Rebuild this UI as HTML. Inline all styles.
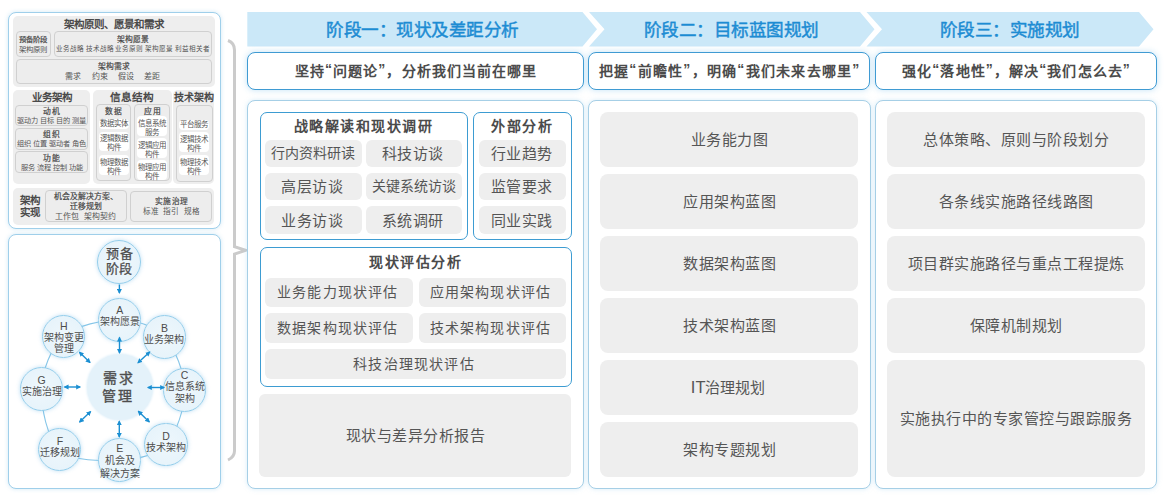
<!DOCTYPE html>
<html lang="zh-CN">
<head>
<meta charset="utf-8">
<style>
html,body{margin:0;padding:0;background:#fff;}
body{width:1167px;height:499px;position:relative;overflow:hidden;font-family:"Liberation Sans",sans-serif;color:#555;}
.a{position:absolute;box-sizing:border-box;}
.t{position:absolute;white-space:nowrap;text-align:center;line-height:1;}
/* left */
.outer{border:1.2px solid #9fcfea;border-radius:8px;background:#fff;box-shadow:0 0 4px rgba(150,205,235,.45);}
.gp{background:#eeeeee;border-radius:5px;}
.ib{border:1px solid #d0d0d0;border-radius:4px;background:#ededed;}
.wp{background:#fff;border-radius:4px;}
.lt{font-weight:bold;color:#4a4a4a;}
/* right */
.hb{border:1.6px solid #3f9bd3;border-radius:8px;background:#fff;box-shadow:0 0 6px rgba(120,190,235,.45);}
.cp{border:1px solid #a6cfe6;border-radius:8px;background:#fff;box-shadow:0 0 5px rgba(140,200,235,.35);}
.bb{border:1.3px solid #3d9cd2;border-radius:7px;background:#fff;}
.pill{background:#eeeeee;border-radius:6px;}
.ptxt{font-size:14px;color:#555;}
.circ{border:1.3px solid #93cdeb;border-radius:50%;background:radial-gradient(circle,#eef7fc 0%,#e4f2fa 100%);box-shadow:0 0 4px rgba(110,185,230,.45);}
.ct{color:#4c4c4c;}
.ltr{font-size:10.5px;}
.btl{font-size:14px;font-weight:bold;color:#4b4b4b;letter-spacing:1.5px;}
.ptxt2{font-size:15px;color:#555;letter-spacing:0.5px;text-indent:0.5px;}
.g2{border-radius:8px;}
.ls{font-size:15px;letter-spacing:0.5px;text-indent:0;margin-left:-1px;}
.st{font-size:7.5px;color:#555;}
.st2{font-size:7.8px;color:#444;-webkit-text-stroke:0.2px #444;}
.sm{color:#555;}
.ls1{letter-spacing:1px;text-indent:1px;}
.q{position:relative;top:-2px;}
.htxt{font-size:14px;font-weight:bold;color:#4b4b4b;letter-spacing:1.1px;text-indent:1.1px;}
</style>
</head>
<body>
<!-- LEFT TOP PANEL -->
<div class="a outer" style="left:8px;top:12px;width:213px;height:217px;"></div>
<div class="a gp" style="left:13px;top:16px;width:202px;height:71px;"></div>
<div class="t lt" style="left:13px;width:202px;top:19px;font-size:10.5px;">架构原则、愿景和需求</div>
<div class="a ib" style="left:16.4px;top:31.3px;width:34.2px;height:25.3px;"></div>
<div class="t st2" style="left:16.4px;width:34.2px;top:35.8px;font-size:7.4px;">预备阶段</div>
<div class="t sm" style="left:16.4px;width:34.2px;top:45.8px;font-size:7.4px;">架构原则</div>
<div class="a ib" style="left:53.6px;top:31.3px;width:158.6px;height:25.3px;"></div>
<div class="t st2" style="left:53.6px;width:158.6px;top:35.8px;font-size:7.8px;">架构愿景</div>
<div class="t sm" style="left:53.6px;width:158.6px;top:45.8px;font-size:6.6px;">业务战略 技术战略 业务原则 架构愿景 利益相关者</div>
<div class="a ib" style="left:16.4px;top:59.4px;width:195.8px;height:24.7px;"></div>
<div class="t st2" style="left:16.4px;width:195.8px;top:63px;font-size:7.8px;">架构需求</div>
<div class="t sm" style="left:16.4px;width:195.8px;top:72.5px;font-size:8px;word-spacing:8px;text-indent:-3px;">需求 约束 假设 差距</div>

<div class="a gp" style="left:13.3px;top:90.2px;width:76.3px;height:93.6px;"></div>
<div class="t lt" style="left:14.3px;width:76.3px;top:92.2px;font-size:10.5px;">业务架构</div>
<div class="a ib" style="left:15.3px;top:104.5px;width:72.8px;height:21.8px;"></div>
<div class="t st2 ls1" style="left:15.3px;width:72.8px;top:107.5px;">动机</div>
<div class="t sm" style="left:15.3px;width:72.8px;top:116.8px;font-size:7.2px;">驱动力 目标 目的 测量</div>
<div class="a ib" style="left:15.3px;top:128.3px;width:72.8px;height:21.3px;"></div>
<div class="t st2 ls1" style="left:15.3px;width:72.8px;top:131px;">组织</div>
<div class="t sm" style="left:15.3px;width:72.8px;top:140.3px;font-size:7.2px;">组织 位置 驱动者 角色</div>
<div class="a ib" style="left:15.3px;top:151.4px;width:72.8px;height:22.1px;"></div>
<div class="t st2 ls1" style="left:15.3px;width:72.8px;top:154.5px;">功能</div>
<div class="t sm" style="left:15.3px;width:72.8px;top:163.8px;font-size:7.2px;">服务 流程 控制 功能</div>

<div class="a gp" style="left:93.4px;top:90.2px;width:78.2px;height:93.6px;"></div>
<div class="t lt" style="left:93.4px;width:78.2px;top:92.2px;font-size:10.6px;">信息结构</div>
<div class="a ib" style="left:96.1px;top:104.3px;width:35.2px;height:77.1px;"></div>
<div class="t st2 ls1" style="left:96.1px;width:35.2px;top:108px;">数据</div>
<div class="a ib" style="left:134.4px;top:104.3px;width:35.6px;height:77.1px;"></div>
<div class="t st2 ls1" style="left:134.4px;width:35.6px;top:108px;">应用</div>

<div class="a gp" style="left:173px;top:90.2px;width:41.2px;height:93.6px;"></div>
<div class="t lt" style="left:173px;width:41.2px;top:92.6px;font-size:10px;">技术架构</div>
<div class="a ib" style="left:175.6px;top:104.5px;width:37px;height:77.8px;"></div>
<div class="a wp" style="left:99px;top:119px;width:30px;height:9.8px;"></div>
<div class="t st" style="left:96px;width:36px;top:120.2px;">数据实体</div>
<div class="a wp" style="left:99px;top:132.3px;width:30px;height:18.8px;"></div>
<div class="t st" style="left:96px;width:36px;top:133.8px;line-height:9px;">逻辑数据<br>构件</div>
<div class="a wp" style="left:99px;top:155.3px;width:30px;height:19.6px;"></div>
<div class="t st" style="left:96px;width:36px;top:157.7px;line-height:9px;">物理数据<br>构件</div>

<div class="a wp" style="left:137px;top:116.2px;width:30px;height:19.5px;"></div>
<div class="t st" style="left:134.5px;width:35px;top:118.7px;line-height:9px;">信息系统<br>服务</div>
<div class="a wp" style="left:137px;top:138.3px;width:30px;height:19.6px;"></div>
<div class="t st" style="left:134.5px;width:35px;top:140.8px;line-height:9px;">逻辑应用<br>构件</div>
<div class="a wp" style="left:137px;top:160.4px;width:30px;height:19.6px;"></div>
<div class="t st" style="left:134.5px;width:35px;top:162.9px;line-height:9px;">物理应用<br>构件</div>

<div class="a wp" style="left:179px;top:120px;width:30px;height:9.5px;"></div>
<div class="t st" style="left:175.5px;width:37px;top:121px;">平台服务</div>
<div class="a wp" style="left:179px;top:132.1px;width:30px;height:19.5px;"></div>
<div class="t st" style="left:175.5px;width:37px;top:134.5px;line-height:9px;">逻辑技术<br>构件</div>
<div class="a wp" style="left:179px;top:155.2px;width:30px;height:19.7px;"></div>
<div class="t st" style="left:175.5px;width:37px;top:157.7px;line-height:9px;">物理技术<br>构件</div>

<div class="a gp" style="left:13.4px;top:188px;width:201.1px;height:36.5px;"></div>
<div class="t lt" style="left:13.4px;width:33px;top:193.8px;font-size:10.5px;line-height:12.6px;">架构<br>实现</div>
<div class="a ib" style="left:45px;top:190.4px;width:81.5px;height:31.2px;"></div>
<div class="t st2" style="left:45px;width:81.5px;top:192.2px;font-size:7.9px;line-height:9.9px;text-indent:1px;">机会及解决方案、<br>迁移规划</div>
<div class="t sm" style="left:45px;width:81.5px;top:212.8px;font-size:7.9px;word-spacing:3px;">工作包 架构契约</div>
<div class="a ib" style="left:130.4px;top:190.5px;width:82.1px;height:31.2px;"></div>
<div class="t st2" style="left:130.4px;width:82.1px;top:197.8px;font-size:7.7px;letter-spacing:0.2px;text-indent:0.2px;">实施治理</div>
<div class="t sm" style="left:130.4px;width:82.1px;top:207.5px;font-size:7.6px;word-spacing:2.8px;">标准 指引 规格</div>

<!-- LEFT BOTTOM PANEL -->
<div class="a outer" style="left:8px;top:233.5px;width:213px;height:255px;"></div>
<svg class="a" style="left:0;top:0;" width="240" height="499">
<defs>
<marker id="ah" viewBox="0 0 10 10" refX="8" refY="5" markerWidth="4" markerHeight="4" orient="auto-start-reverse"><path d="M0 0 L10 5 L0 10 Z" fill="#1b8fd2"/></marker>
</defs>
<path d="M119.7 320.0 C136.5 320.1 153.7 325.4 164.5 337.1 C175.3 348.8 184.4 372.2 184.6 390.1 C184.8 408.0 176.7 432.9 165.9 444.6 C155.1 456.3 137.3 459.2 119.6 460.1 C101.9 461.0 72.9 461.8 59.9 449.9 C46.9 438.0 41.1 407.9 41.7 389.0 C42.3 370.1 50.7 348.0 63.7 336.5 C76.7 325.0 102.9 319.9 119.7 320.0 Z" fill="none" stroke="#86c6e8" stroke-width="1.1"/>
</svg>
<div class="a circ" style="left:97.4px;top:239.5px;width:44px;height:44px;"></div>
<div class="a circ" style="left:97.9px;top:298.2px;width:43.6px;height:43.6px;"></div>
<div class="a circ" style="left:142.7px;top:315.4px;width:43.5px;height:43.5px;"></div>
<div class="a circ" style="left:162.9px;top:368.4px;width:43.3px;height:43.3px;"></div>
<div class="a circ" style="left:144.3px;top:422.9px;width:43.3px;height:43.3px;"></div>
<div class="a circ" style="left:97.9px;top:438.3px;width:43.6px;height:43.6px;"></div>
<div class="a circ" style="left:38.3px;top:428.3px;width:43.2px;height:43.2px;"></div>
<div class="a circ" style="left:20.1px;top:367.4px;width:43.2px;height:43.2px;"></div>
<div class="a circ" style="left:42.1px;top:314.7px;width:43.2px;height:43.2px;"></div>
<div class="a" style="left:86.5px;top:354.3px;width:66px;height:66px;border-radius:50%;background:#e4f2fa;box-shadow:0 0 2px 1px #e8f4fb;"></div>
<svg class="a" style="left:0;top:0;" width="240" height="499">
<defs><marker id="ah2" viewBox="0 0 10 10" refX="8" refY="5" markerWidth="3.6" markerHeight="3.6" orient="auto-start-reverse"><path d="M0 0 L10 5 L0 10 Z" fill="#1b8fd2"/></marker></defs>
<g stroke="#1b8fd2" stroke-width="1.4" marker-start="url(#ah2)" marker-end="url(#ah2)">
<line x1="119.5" y1="337.5" x2="119.5" y2="353"/>
<line x1="79.5" y1="352.2" x2="90" y2="362.5"/>
<line x1="149.7" y1="352" x2="138" y2="362.8"/>
<line x1="64.5" y1="387" x2="80.2" y2="387"/>
<line x1="147.8" y1="387.5" x2="164.2" y2="387.5"/>
<line x1="79.6" y1="422" x2="90.6" y2="411.6"/>
<line x1="138.3" y1="411.3" x2="149.3" y2="421.9"/>
<line x1="119.3" y1="421.2" x2="119.3" y2="436.9"/>
</g>
<line x1="119.4" y1="284.5" x2="119.4" y2="293" stroke="#1b8fd2" stroke-width="1.4" marker-end="url(#ah2)"/>
</svg>
<div class="t ct" style="left:97.4px;width:44px;top:247.3px;font-size:13px;line-height:14.8px;letter-spacing:0.5px;text-indent:0.5px;-webkit-text-stroke:0.25px #4c4c4c;">预备<br>阶段</div>
<div class="t ct" style="left:97.9px;width:43.6px;top:305px;font-size:10px;line-height:11px;"><span class="ltr">A</span><br>架构愿景</div>
<div class="t ct" style="left:142.7px;width:43.5px;top:322.5px;font-size:10px;line-height:11px;"><span class="ltr">B</span><br>业务架构</div>
<div class="t ct" style="left:162.9px;width:43.3px;top:369.6px;font-size:10px;line-height:11.8px;"><span class="ltr">C</span><br>信息系统<br>架构</div>
<div class="t ct" style="left:144.3px;width:43.3px;top:430.5px;font-size:10px;line-height:11px;"><span class="ltr">D</span><br>技术架构</div>
<div class="t ct" style="left:97.9px;width:43.6px;top:441.5px;font-size:10px;line-height:12.7px;"><span class="ltr">E</span><br>机会及<br>解决方案</div>
<div class="t ct" style="left:38.3px;width:43.2px;top:436px;font-size:10px;line-height:11px;"><span class="ltr">F</span><br>迁移规划</div>
<div class="t ct" style="left:20.1px;width:43.2px;top:374.5px;font-size:10px;line-height:11px;"><span class="ltr">G</span><br>实施治理</div>
<div class="t ct" style="left:42.1px;width:43.2px;top:320.5px;font-size:10px;line-height:11px;"><span class="ltr">H</span><br>架构变更<br>管理</div>
<div class="t ct" style="left:85px;width:66px;top:370px;font-size:14px;line-height:17.8px;letter-spacing:2.5px;text-indent:2.5px;color:#4d4d4d;-webkit-text-stroke:0.35px #4d4d4d;">需求<br>管理</div>

<!-- BRACKET -->
<svg class="a" style="left:0;top:0;" width="1167" height="499">
<path d="M228 40.5 Q234.5 43 234.5 50 L234.5 246.6 L245.6 250.3 L234.5 254 L234.5 451 Q234.5 457 228 460" fill="none" stroke="#cbcbcb" stroke-width="3" stroke-linejoin="miter"/>
</svg>

<!-- CHEVRONS -->
<svg class="a" style="left:0;top:0;" width="1167" height="499">
<polygon points="247.3,12 582.5,12 597,29.2 582.5,46.5 247.3,46.5" fill="#cbe8f8"/>
<polygon points="589,12 860,12 874.5,29.2 860,46.5 589,46.5 604.5,29.2" fill="#cbe8f8"/>
<polygon points="866.5,12 1139,12 1153.5,29.2 1139,46.5 866.5,46.5 882,29.2" fill="#cbe8f8"/>
</svg>
<div class="t" style="left:247.5px;width:350px;top:22px;font-size:17.6px;letter-spacing:-0.5px;text-indent:-0.5px;color:#1d8cd3;-webkit-text-stroke:0.45px #1d8cd3;">阶段一：现状及差距分析</div>
<div class="t" style="left:589px;width:285px;top:22px;font-size:17.6px;letter-spacing:-0.5px;text-indent:-0.5px;color:#1d8cd3;-webkit-text-stroke:0.45px #1d8cd3;">阶段二：目标蓝图规划</div>
<div class="t" style="left:866.5px;width:287px;top:22px;font-size:17.6px;letter-spacing:-0.5px;text-indent:-0.5px;color:#1d8cd3;-webkit-text-stroke:0.45px #1d8cd3;">阶段三：实施规划</div>

<!-- HEADER BOXES -->
<div class="a hb" style="left:247px;top:52px;width:337px;height:38px;"></div>
<div class="t htxt" style="left:247.5px;width:336px;top:64px;">坚持<span class="q">“</span>问题论<span class="q">”</span>，分析我们当前在哪里</div>
<div class="a hb" style="left:588px;top:52px;width:282px;height:38px;"></div>
<div class="t htxt" style="left:588px;width:282px;top:64px;letter-spacing:1.25px;text-indent:1.25px;">把握<span class="q">“</span>前瞻性<span class="q">”</span>，明确<span class="q">“</span>我们未来去哪里<span class="q">”</span></div>
<div class="a hb" style="left:875px;top:52px;width:282px;height:38px;"></div>
<div class="t htxt" style="left:875px;width:282px;top:64px;">强化<span class="q">“</span>落地性<span class="q">”</span>，解决<span class="q">“</span>我们怎么去<span class="q">”</span></div>

<!-- CONTENT PANELS -->
<div class="a cp" style="left:247px;top:100px;width:337px;height:389px;"></div>
<div class="a cp" style="left:588px;top:100px;width:283px;height:389px;"></div>
<div class="a cp" style="left:875px;top:100px;width:282px;height:389px;"></div>

<!-- STAGE 1 CONTENT -->
<div class="a bb" style="left:259.5px;top:112px;width:208px;height:127.5px;"></div>
<div class="t btl" style="left:259.5px;width:208px;top:119px;">战略解读和现状调研</div>
<div class="a pill" style="left:265px;top:139.5px;width:96.5px;height:27.5px;"></div>
<div class="t ptxt" style="left:265px;width:96.5px;top:146px;">行内资料研读</div>
<div class="a pill" style="left:365.5px;top:139.5px;width:96.5px;height:27.5px;"></div>
<div class="t ptxt ls" style="left:365.5px;width:96.5px;top:146px;">科技访谈</div>
<div class="a pill" style="left:265px;top:172.7px;width:96.5px;height:27.5px;"></div>
<div class="t ptxt ls" style="left:265px;width:96.5px;top:179px;">高层访谈</div>
<div class="a pill" style="left:365.5px;top:172.7px;width:96.5px;height:27.5px;"></div>
<div class="t ptxt" style="left:365.5px;width:96.5px;top:179px;">关键系统访谈</div>
<div class="a pill" style="left:265px;top:206px;width:96.5px;height:27.5px;"></div>
<div class="t ptxt ls" style="left:265px;width:96.5px;top:212.5px;">业务访谈</div>
<div class="a pill" style="left:365.5px;top:206px;width:96.5px;height:27.5px;"></div>
<div class="t ptxt ls" style="left:365.5px;width:96.5px;top:212.5px;">系统调研</div>

<div class="a bb" style="left:473px;top:112px;width:98.5px;height:127.5px;"></div>
<div class="t btl" style="left:473px;width:98.5px;top:119px;">外部分析</div>
<div class="a pill" style="left:479px;top:139.5px;width:87px;height:27.5px;"></div>
<div class="t ptxt ls" style="left:479px;width:87px;top:146px;">行业趋势</div>
<div class="a pill" style="left:479px;top:172.7px;width:87px;height:27.5px;"></div>
<div class="t ptxt ls" style="left:479px;width:87px;top:179px;">监管要求</div>
<div class="a pill" style="left:479px;top:206px;width:87px;height:27.5px;"></div>
<div class="t ptxt ls" style="left:479px;width:87px;top:212.5px;">同业实践</div>

<div class="a bb" style="left:259.5px;top:246.8px;width:312px;height:140.5px;"></div>
<div class="t btl" style="left:259.5px;width:312px;top:254.5px;">现状评估分析</div>
<div class="a pill" style="left:265.2px;top:277.5px;width:147.5px;height:29.5px;"></div>
<div class="t ptxt2" style="left:263.4px;width:147.5px;top:285px;;font-size:14px;letter-spacing:1.2px;text-indent:1.2px">业务能力现状评估</div>
<div class="a pill" style="left:418.5px;top:277.5px;width:147.5px;height:29.5px;"></div>
<div class="t ptxt2" style="left:416px;width:147.5px;top:285px;;font-size:14px;letter-spacing:1.2px;text-indent:1.2px">应用架构现状评估</div>
<div class="a pill" style="left:265.2px;top:313px;width:147.5px;height:29.8px;"></div>
<div class="t ptxt2" style="left:263.4px;width:147.5px;top:320.5px;;font-size:14px;letter-spacing:1.2px;text-indent:1.2px">数据架构现状评估</div>
<div class="a pill" style="left:418.5px;top:313px;width:147.5px;height:29.8px;"></div>
<div class="t ptxt2" style="left:416px;width:147.5px;top:320.5px;;font-size:14px;letter-spacing:1.2px;text-indent:1.2px">技术架构现状评估</div>
<div class="a pill" style="left:265.2px;top:349px;width:300.8px;height:29.8px;"></div>
<div class="t ptxt2" style="left:263px;width:300.8px;top:356.5px;;font-size:14px;letter-spacing:1.2px;text-indent:1.2px">科技治理现状评估</div>

<div class="a pill" style="left:259px;top:394px;width:312.2px;height:82.5px;"></div>
<div class="t ptxt2" style="left:259px;width:312.2px;top:428px;">现状与差异分析报告</div>

<!-- STAGE 2 CONTENT -->
<div class="a pill g2" style="left:600.2px;top:112px;width:258.3px;height:55px;"></div>
<div class="t ptxt2" style="left:600.2px;width:258.3px;top:132px;">业务能力图</div>
<div class="a pill g2" style="left:600.2px;top:174px;width:258.3px;height:55px;"></div>
<div class="t ptxt2" style="left:600.2px;width:258.3px;top:194px;">应用架构蓝图</div>
<div class="a pill g2" style="left:600.2px;top:236px;width:258.3px;height:55px;"></div>
<div class="t ptxt2" style="left:600.2px;width:258.3px;top:256px;">数据架构蓝图</div>
<div class="a pill g2" style="left:600.2px;top:297.7px;width:258.3px;height:55px;"></div>
<div class="t ptxt2" style="left:600.2px;width:258.3px;top:317.7px;">技术架构蓝图</div>
<div class="a pill g2" style="left:600.2px;top:360px;width:258.3px;height:54.5px;"></div>
<div class="t ptxt2" style="left:599px;width:258.3px;top:378.8px;letter-spacing:0;text-indent:0;font-size:15px;"><span style="font-size:16.5px">IT</span>治理规划</div>
<div class="a pill g2" style="left:600.2px;top:422px;width:258.3px;height:54.5px;"></div>
<div class="t ptxt2" style="left:600.2px;width:258.3px;top:442px;">架构专题规划</div>

<!-- STAGE 3 CONTENT -->
<div class="a pill g2" style="left:886.5px;top:112px;width:258.5px;height:55px;"></div>
<div class="t ptxt2" style="left:886.5px;width:258.5px;top:132px;">总体策略、原则与阶段划分</div>
<div class="a pill g2" style="left:886.5px;top:174px;width:258.5px;height:55px;"></div>
<div class="t ptxt2" style="left:886.5px;width:258.5px;top:194px;">各条线实施路径线路图</div>
<div class="a pill g2" style="left:886.5px;top:236px;width:258.5px;height:55px;"></div>
<div class="t ptxt2" style="left:886.5px;width:258.5px;top:256px;">项目群实施路径与重点工程提炼</div>
<div class="a pill g2" style="left:886.5px;top:297.7px;width:258.5px;height:55px;"></div>
<div class="t ptxt2" style="left:886.5px;width:258.5px;top:317.7px;">保障机制规划</div>
<div class="a pill g2" style="left:886.5px;top:360px;width:258.5px;height:116.5px;"></div>
<div class="t ptxt2" style="left:886.5px;width:258.5px;top:411px;">实施执行中的专家管控与跟踪服务</div>

</body>
</html>
